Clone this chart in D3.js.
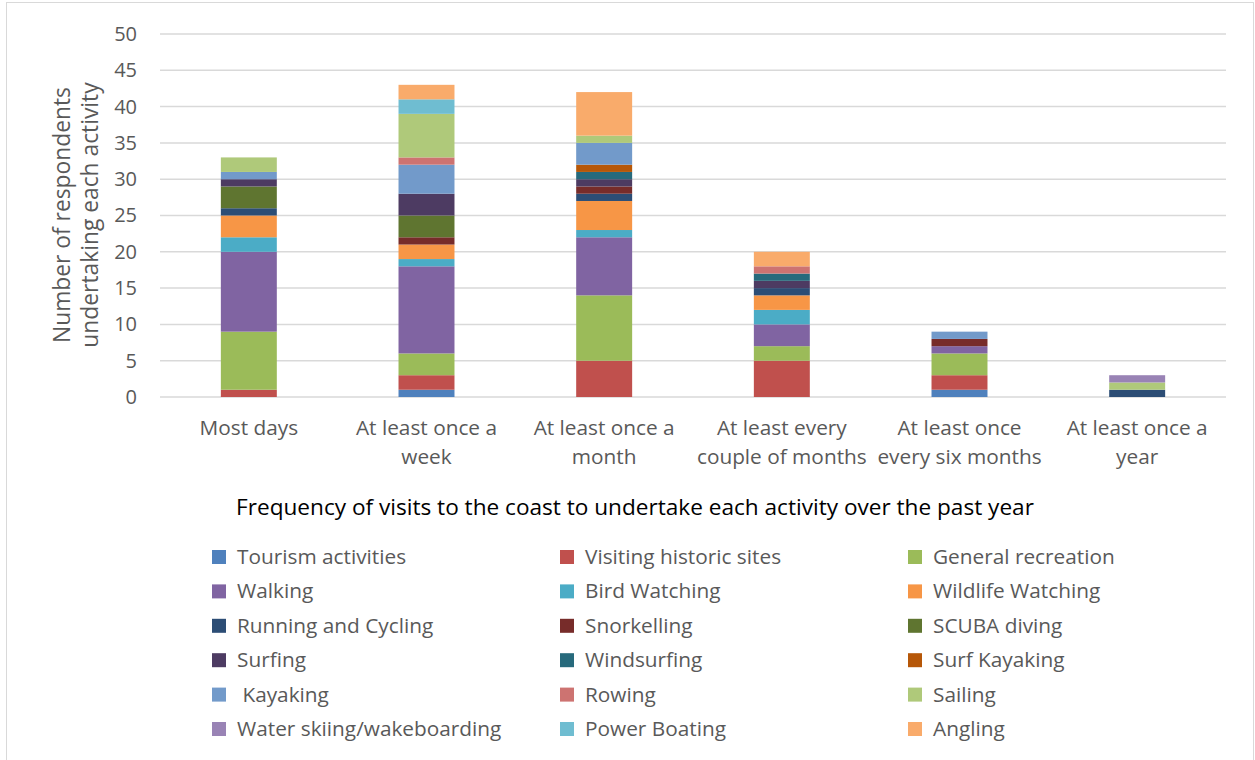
<!DOCTYPE html>
<html><head><meta charset="utf-8">
<script src="https://cdn.jsdelivr.net/npm/d3@7"></script>
<style>body{margin:0;background:#fff;} svg{display:block;font-family:"Open Sans",sans-serif;}</style>
</head><body><svg id="c" width="1255" height="760"></svg>
<script>
const categories = ["Most days","At least once a week","At least once a month","At least every couple of months","At least once every six months","At least once a year"];
const categoryLines = [["Most days"],["At least once a","week"],["At least once a","month"],["At least every","couple of months"],["At least once","every six months"],["At least once a","year"]];
const seriesNames = ["Tourism activities","Visiting historic sites","General recreation","Walking","Bird Watching","Wildlife Watching","Running and Cycling","Snorkelling","SCUBA diving","Surfing","Windsurfing","Surf Kayaking"," Kayaking","Rowing","Sailing","Water skiing/wakeboarding","Power Boating","Angling"];
const seriesColors = ["#4F81BD","#C0504D","#9BBB59","#8064A2","#4BACC6","#F79646","#2C4D75","#772C2A","#5F7530","#4D3B62","#276A7C","#B65708","#729ACA","#CD7371","#AFC97A","#9983B5","#6FBDD1","#F9AB6B"];
const tourism      = [0,1,0,0,1,0];
const historic     = [1,2,5,5,2,0];
const generalRec   = [8,3,9,2,3,0];
const walking      = [11,12,8,3,1,0];
const birdWatching = [2,1,1,2,0,0];
const wildlife     = [3,2,4,2,0,0];
const running      = [1,0,1,1,0,1];
const snorkelling  = [0,1,1,0,1,0];
const scuba        = [3,3,0,0,0,0];
const surfing      = [1,3,1,1,0,0];
const windsurfing  = [0,0,1,1,0,0];
const surfKayaking = [0,0,1,0,0,0];
const kayaking     = [1,4,3,0,1,0];
const rowing       = [0,1,0,1,0,0];
const sailing      = [2,6,1,0,0,1];
const waterSkiing  = [0,0,0,0,0,1];
const powerBoating = [0,2,0,0,0,0];
const angling      = [0,2,6,2,0,0];
const yTicks = [0,5,10,15,20,25,30,35,40,45,50];
const yTitle = ["Number of respondents","undertaking each activity"];
const xTitle = "Frequency of visits to the coast to undertake each activity over the past year";

const seriesValues = [tourism,historic,generalRec,walking,birdWatching,wildlife,running,snorkelling,scuba,surfing,windsurfing,surfKayaking,kayaking,rowing,sailing,waterSkiing,powerBoating,angling];

const svg = d3.select("#c");
svg.append("rect").attr("x",6.5).attr("y",2.5).attr("width",1247).attr("height",770).attr("fill","#fff").attr("stroke","#D9D9D9").attr("stroke-width",1);

const pLeft=160, pRight=1226, pTop=34, pBottom=397;
const x = d3.scaleBand().domain(categories).range([pLeft,pRight]).padding(0);
const y = d3.scaleLinear().domain([0,50]).range([pBottom,pTop]);

// gridlines
svg.append("g").selectAll("line").data(yTicks).join("line")
  .attr("x1",pLeft).attr("x2",pRight).attr("y1",d=>y(d)).attr("y2",d=>y(d))
  .attr("stroke","#D9D9D9").attr("stroke-width",1.5);

// y axis labels via d3 axis
const yAxis = svg.append("g").attr("transform",`translate(${pLeft-10},0)`)
  .call(d3.axisLeft(y).tickValues(yTicks).tickSize(0).tickPadding(13));
yAxis.select(".domain").remove();
yAxis.selectAll("text").attr("font-size",20).attr("fill","#595959").attr("font-family","Open Sans");

// stacked data
const table = categories.map((c,i)=>{const o={cat:c}; seriesNames.forEach((s,j)=>o[s]=seriesValues[j][i]); return o;});
const stack = d3.stack().keys(seriesNames)(table);
const bw = x.bandwidth()*0.315;
svg.append("g").selectAll("g").data(stack).join("g")
  .attr("fill",(d,i)=>seriesColors[i])
  .selectAll("rect").data(d=>d.filter(p=>p[1]-p[0]>0)).join("rect")
  .attr("x",d=>x(d.data.cat)+x.bandwidth()/2-bw/2)
  .attr("width",bw)
  .attr("y",d=>y(d[1]))
  .attr("height",d=>y(d[0])-y(d[1]));

// x labels
const xl = svg.append("g");
categories.forEach((c,i)=>{
  const t = xl.append("text").attr("x",x(c)+x.bandwidth()/2).attr("y",435)
    .attr("text-anchor","middle").attr("font-size",20.8).attr("fill","#595959");
  categoryLines[i].forEach((ln,k)=>t.append("tspan").attr("x",x(c)+x.bandwidth()/2).attr("dy",k===0?0:29).text(ln));
});

// x title
svg.append("text").attr("x",635).attr("y",515).attr("text-anchor","middle")
  .attr("font-size",22.6).attr("fill","#000").text(xTitle);

// y title
const yt = svg.append("text").attr("transform","translate(0,215) rotate(-90)")
  .attr("text-anchor","middle").attr("font-size",22.8).attr("fill","#595959");
yTitle.forEach((ln,k)=>yt.append("tspan").attr("x",0).attr("y",k===0?70:98).text(ln));

// legend
const colX=[212,560,908], rowY0=557, rowDY=34.4;
const lg = svg.append("g");
seriesNames.forEach((s,i)=>{
  const col=i%3,row=Math.floor(i/3);
  const cy=rowY0+row*rowDY;
  lg.append("rect").attr("x",colX[col]).attr("y",cy-7).attr("width",14).attr("height",14).attr("fill",seriesColors[i]);
  lg.append("text").attr("x",colX[col]+25).attr("y",cy+7).attr("font-size",20.8).attr("fill","#595959").style("white-space","pre").text(s);
});
</script></body></html>
